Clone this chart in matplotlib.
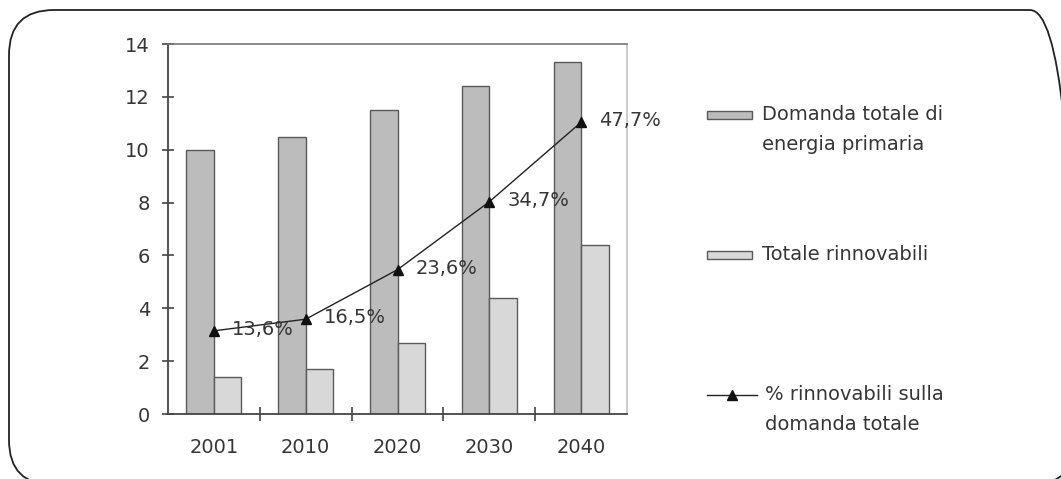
import matplotlib
matplotlib.use("Agg")
import matplotlib.pyplot as plt
import numpy as np
from matplotlib.patches import FancyBboxPatch, Rectangle
from matplotlib.lines import Line2D

plt.rcParams["font.family"] = ["DejaVu Sans"]

W, H = 1061, 479

# dati
anni = ["2001", "2010", "2020", "2030", "2040"]
domanda_totale = [10.0, 10.5, 11.5, 12.4, 13.3]
totale_rinnovabili = [1.4, 1.7, 2.7, 4.4, 6.4]
quota_rinnovabili = [13.6, 15.5, 23.6, 34.7, 47.7]
etichette_quota = ["13,6%", "16,5%", "23,6%", "34,7%", "47,7%"]

legenda = [
    ("bar_dark", ["Domanda totale di", "energia primaria"]),
    ("bar_light", ["Totale rinnovabili"]),
    ("line", ["% rinnovabili sulla", "domanda totale"]),
]

COL_DARK = "#bcbcbc"
COL_LIGHT = "#d8d8d8"
EDGE = "#5a5a5a"
TXT = "#363636"


def px(x, y):
    """pixel (origine in alto a sinistra) -> coordinate figura"""
    return x / W, 1 - y / H


fig = plt.figure(figsize=(W / 100, H / 100), dpi=100)
ax = fig.add_axes([168 / W, 65 / H, 459 / W, 370 / H])

x = np.arange(len(anni))
bw = 0.30
ax.bar(x - bw / 2, domanda_totale, bw, color=COL_DARK, edgecolor=EDGE, linewidth=1.0, zorder=2)
ax.bar(x + bw / 2, totale_rinnovabili, bw, color=COL_LIGHT, edgecolor=EDGE, linewidth=1.0, zorder=2)

ax.set_xlim(-0.5, 4.5)
ax.set_ylim(0, 14)
ax.set_yticks(np.arange(0, 15, 2))
ax.set_xticks(x)
ax.set_xticklabels(anni)
ax.set_xticks(x[:-1] + 0.5, minor=True)
ax.tick_params(axis="y", direction="inout", length=8, width=1.2, color="#444444",
               labelsize=14, labelcolor=TXT, pad=9)
ax.tick_params(axis="x", which="major", length=0, labelsize=14, labelcolor=TXT, pad=17)
ax.tick_params(axis="x", which="minor", direction="inout", length=10, width=1.2, color="#444444")

ax.spines["left"].set_color("#444444")
ax.spines["left"].set_linewidth(1.3)
ax.spines["bottom"].set_color("#444444")
ax.spines["bottom"].set_linewidth(1.3)
ax.spines["top"].set_color("#777777")
ax.spines["top"].set_linewidth(1.2)
ax.spines["right"].set_color("#c4c4c4")
ax.spines["right"].set_linewidth(1.2)

# quota rinnovabili su asse secondario nascosto
ax2 = ax.twinx()
ax2.set_ylim(0, 60.5)
ax2.axis("off")
ax2.plot(x, quota_rinnovabili, color="#222222", linewidth=1.0, marker="^",
         markersize=7, markerfacecolor="#111111", markeredgecolor="#111111", zorder=3)
for xi, q, lab in zip(x, quota_rinnovabili, etichette_quota):
    ax2.annotate(lab, (xi, q), xytext=(13, 1), textcoords="offset points",
                 va="center", ha="left", fontsize=14, color=TXT)

# legenda a destra, disegnata a mano
leg_y = [115, 255, 395]
for (kind, righe), y0 in zip(legenda, leg_y):
    if kind.startswith("bar"):
        col = COL_DARK if kind == "bar_dark" else COL_LIGHT
        x0, y1 = px(707, y0 + 4)
        fig.add_artist(Rectangle((x0, y1), 45 / W, 8 / H, transform=fig.transFigure,
                                 facecolor=col, edgecolor=EDGE, linewidth=1.0))
        tx = 762
    else:
        xa, ya = px(707, y0)
        xb, _ = px(757, y0)
        fig.add_artist(Line2D([xa, xb], [ya, ya], transform=fig.transFigure,
                              color="#222222", linewidth=1.0))
        xm, _ = px(732, y0)
        fig.add_artist(Line2D([xm], [ya], transform=fig.transFigure, marker="^",
                              markersize=7, color="#111111", linestyle="none"))
        tx = 765
    for k, riga in enumerate(righe):
        fx, fy = px(tx, y0 + 29 * k)
        fig.text(fx, fy, riga, fontsize=14, color=TXT, va="center", ha="left")

# cornice arrotondata
fig.add_artist(FancyBboxPatch((0.09, -0.06), 10.66, 4.75,
                              boxstyle="round,pad=0,rounding_size=0.45",
                              transform=fig.dpi_scale_trans, facecolor="none",
                              edgecolor="#222222", linewidth=1.3, clip_on=False))

fig.savefig("out.png", dpi=100)
